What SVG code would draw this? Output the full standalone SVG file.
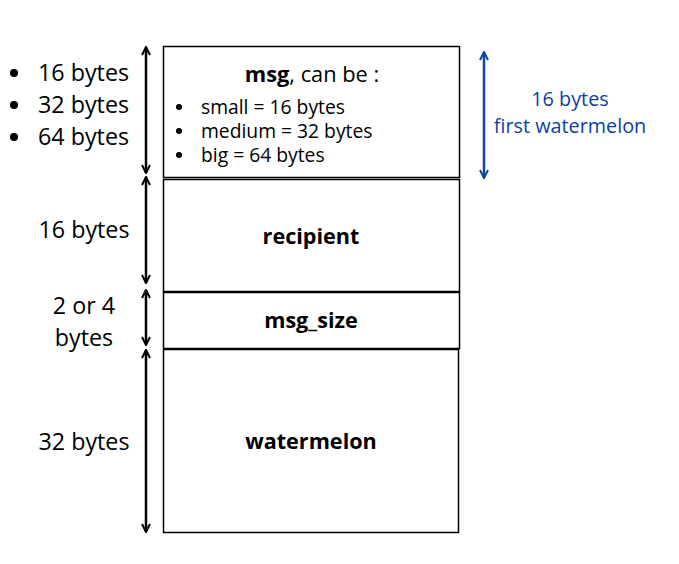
<svg xmlns="http://www.w3.org/2000/svg" width="679" height="564" viewBox="0 0 679 564">
<style>
.box{fill:#fff;stroke:#000;stroke-width:1.5}
.t{font-family:"Open Sans","Noto Sans",sans-serif;fill:#000}
.lbl{font-size:23.3px;text-anchor:middle}
.b{font-weight:bold;font-size:21.6px;text-anchor:middle}
.li{font-size:19.3px}
.blue{fill:#0b3fa3;font-size:19.8px;text-anchor:middle}
.arr{stroke:#000;stroke-width:2.5;fill:none}
.arrb{stroke:#0b47a6;stroke-width:2.5;fill:none}
</style>
<defs>
<marker id="hk" viewBox="0 0 10 10" refX="9" refY="5" markerWidth="4" markerHeight="4" orient="auto-start-reverse" markerUnits="strokeWidth">
<path d="M1,1 L9,5 L1,9" fill="none" stroke="#000" stroke-width="2"/>
</marker>
<marker id="hb" viewBox="0 0 10 10" refX="9" refY="5" markerWidth="4" markerHeight="4" orient="auto-start-reverse" markerUnits="strokeWidth">
<path d="M1,1 L9,5 L1,9" fill="none" stroke="#0b47a6" stroke-width="2"/>
</marker>
</defs>
<rect width="679" height="564" fill="#fff"/>
<g id="msg">
<rect class="box" x="163.5" y="46.5" width="296" height="131"/>
<text class="t" x="312" y="82" style="font-size:21.8px;text-anchor:middle"><tspan font-weight="bold">msg</tspan>, can be :</text>
<circle cx="179" cy="107" r="3"/>
<circle cx="179" cy="131" r="3"/>
<circle cx="179" cy="155" r="3"/>
<text class="t li" x="201" y="114">small = 16 bytes</text>
<text class="t li" x="201" y="138">medium = 32 bytes</text>
<text class="t li" x="201" y="162">big = 64 bytes</text>
</g>
<g id="recipient">
<rect class="box" x="163.5" y="179.5" width="296" height="112"/>
<text class="t b" x="311" y="244">recipient</text>
</g>
<g id="msg_size">
<rect class="box" x="163.5" y="292.5" width="296" height="56"/>
<text class="t b" x="311" y="328">msg_size</text>
</g>
<g id="watermelon">
<rect class="box" x="163.5" y="349.5" width="295" height="183"/>
<text class="t b" x="311" y="449">watermelon</text>
</g>
<g id="labels">
<circle cx="14" cy="73" r="4"/>
<circle cx="14" cy="105" r="4"/>
<circle cx="14" cy="137" r="4"/>
<text class="t" x="38" y="81" font-size="23.3">16 bytes</text>
<text class="t" x="38" y="113" font-size="23.3">32 bytes</text>
<text class="t" x="38" y="145" font-size="23.3">64 bytes</text>
<text class="t lbl" x="84" y="238">16 bytes</text>
<text class="t lbl" x="84" y="314">2 or 4</text>
<text class="t lbl" x="84" y="346">bytes</text>
<text class="t lbl" x="84" y="450">32 bytes</text>
<text class="t blue" x="570" y="106">16 bytes</text>
<text class="t blue" x="570" y="133">first watermelon</text>
</g>
<g id="connectors">
<line class="arr" x1="146" y1="47" x2="146" y2="173" marker-start="url(#hk)" marker-end="url(#hk)"/>
<line class="arr" x1="146" y1="177" x2="146" y2="283" marker-start="url(#hk)" marker-end="url(#hk)"/>
<line class="arr" x1="146" y1="290" x2="146" y2="345" marker-start="url(#hk)" marker-end="url(#hk)"/>
<line class="arr" x1="146" y1="350" x2="146" y2="532" marker-start="url(#hk)" marker-end="url(#hk)"/>
<line class="arrb" x1="484" y1="52" x2="484" y2="178" marker-start="url(#hb)" marker-end="url(#hb)"/>
</g>
</svg>
